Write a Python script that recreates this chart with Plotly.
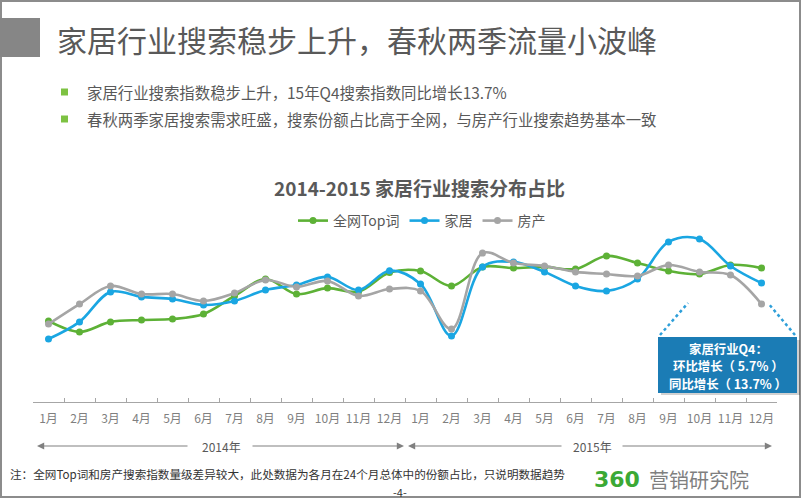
import plotly.graph_objects as go

# ---------------- data ----------------
month_labels = ["1月", "2月", "3月", "4月", "5月", "6月", "7月", "8月", "9月", "10月", "11月", "12月",
                "1月", "2月", "3月", "4月", "5月", "6月", "7月", "8月", "9月", "10月", "11月", "12月"]
month_index = list(range(24))
series_names = ["全网Top词", "家居", "房产"]
top_words = [2.48, 2.02, 2.44, 2.52, 2.56, 2.77, 3.53, 4.24, 3.61, 3.86, 3.71, 4.51,
             4.58, 3.95, 4.75, 4.70, 4.75, 4.66, 5.21, 4.91, 4.58, 4.45, 4.83, 4.70]
home = [1.72, 2.44, 3.70, 3.49, 3.40, 3.15, 3.32, 3.78, 3.99, 4.33, 3.78, 4.59,
        4.03, 1.85, 4.75, 4.96, 4.54, 3.95, 3.74, 4.24, 5.80, 5.92, 4.79, 4.07]
estate = [2.35, 3.19, 3.95, 3.61, 3.61, 3.32, 3.65, 4.20, 3.91, 4.16, 3.53, 3.82,
          3.74, 2.14, 5.33, 4.91, 4.79, 4.54, 4.45, 4.37, 4.83, 4.54, 4.41, 3.19]
year_labels = ["2014年", "2015年"]
boundaries = [i - 0.5 for i in range(25)]

# ---------------- layout constants ----------------
W, H = 802, 502
L, R, T, B = 33, 25, 230, 100
PW, PH = W - L - R, H - T - B
FONT = "Noto Sans CJK SC"


def px(x):
    return (x - L) / PW


def py(y):
    return (H - B - y) / PH


colors = ["#5DB136", "#1AA6E2", "#A5A5A5"]
# the last series sits on the overlay axis that carries the boundary ticks
trace_axes = ["x", "x", "x2"]

fig = go.Figure()
for name, vals, c, ax in zip(series_names, [top_words, home, estate], colors, trace_axes):
    fig.add_trace(go.Scatter(
        x=month_index, y=vals, name=name, mode="lines+markers", xaxis=ax, yaxis="y",
        line=dict(color=c, width=2.6, shape="spline", smoothing=1.0),
        marker=dict(color=c, size=7),
    ))

shapes = []
annotations = []

# frame
shapes.append(dict(type="rect", xref="paper", yref="paper", x0=px(1), x1=px(800), y0=py(1), y1=py(497),
                   line=dict(color="#8c8c8c", width=2), fillcolor="rgba(0,0,0,0)", layer="below"))
# title block
shapes.append(dict(type="rect", xref="paper", yref="paper", x0=px(0), x1=px(40), y0=py(18), y1=py(57),
                   line=dict(width=0), fillcolor="#868686"))
annotations.append(dict(xref="paper", yref="paper", x=px(55), y=py(39), xanchor="left", yanchor="middle",
                        text="家居行业搜索稳步上升，春秋两季流量小波峰", showarrow=False,
                        font=dict(family=FONT, size=30, color="#595959")))
# bullets
for yy, txt in [(92, "家居行业搜索指数稳步上升，15年Q4搜索指数同比增长13.7%"),
                (119, "春秋两季家居搜索需求旺盛，搜索份额占比高于全网，与房产行业搜索趋势基本一致")]:
    shapes.append(dict(type="rect", xref="paper", yref="paper", x0=px(61), x1=px(68), y0=py(yy - 3.5), y1=py(yy + 3.5),
                       line=dict(width=0), fillcolor="#7DC242"))
    annotations.append(dict(xref="paper", yref="paper", x=px(85), y=py(yy), xanchor="left", yanchor="middle",
                            text=txt, showarrow=False, font=dict(family=FONT, size=15.4, color="#595959")))

# chart title
annotations.append(dict(xref="paper", yref="paper", x=px(419), y=py(187), xanchor="center", yanchor="middle",
                        text="<b>2014-2015 家居行业搜索分布占比</b>", showarrow=False,
                        font=dict(family=FONT, size=19, color="#595959")))

# callout box with shadow and dotted leaders
shapes.append(dict(type="rect", xref="paper", yref="paper", x0=px(661), x1=px(800), y0=py(340), y1=py(395),
                   line=dict(width=0), fillcolor="rgba(0,0,0,0.18)"))
shapes.append(dict(type="rect", xref="paper", yref="paper", x0=px(658), x1=px(797), y0=py(337), y1=py(393),
                   line=dict(width=0), fillcolor="#1B7CB5"))
for (x0, y0, x1, y1) in [(660, 335, 688, 303), (795, 335, 768, 303)]:
    shapes.append(dict(type="line", xref="paper", yref="paper", x0=px(x0), y0=py(y0), x1=px(x1), y1=py(y1),
                       line=dict(color="#2E9FD9", width=2.5, dash="dot")))
for yy, txt in [(348.5, "家居行业Q4："), (366, "环比增长（ 5.7% ）"), (383.5, "同比增长（ 13.7% ）")]:
    annotations.append(dict(xref="paper", yref="paper", x=px(728), y=py(yy), xanchor="center", yanchor="middle",
                            text="<b>" + txt + "</b>", showarrow=False,
                            font=dict(family=FONT, size=12.4, color="white")))

# year arrows
ARROW = "#808080"
arrow_specs = [(37, 189), (404, 251), (408, 563), (772, 621)]
for tip, tail in arrow_specs:
    annotations.append(dict(xref="paper", yref="paper", x=px(tip), y=py(446), ax=tail - tip, ay=0,
                            text="", showarrow=True, arrowhead=2, arrowsize=1.2, arrowwidth=1.2,
                            arrowcolor=ARROW))
for xx, txt in zip([221, 592], year_labels):
    annotations.append(dict(xref="paper", yref="paper", x=px(xx), y=py(446), xanchor="center", yanchor="middle",
                            text=txt, showarrow=False, font=dict(family=FONT, size=12, color="#595959")))

# footer
annotations.append(dict(xref="paper", yref="paper", x=px(8), y=py(474), xanchor="left", yanchor="middle",
                        text="注：全网Top词和房产搜索指数量级差异较大，此处数据为各月在24个月总体中的份额占比，只说明数据趋势",
                        showarrow=False, font=dict(family=FONT, size=11.6, color="#333333")))
annotations.append(dict(xref="paper", yref="paper", x=px(400), y=py(492), xanchor="center", yanchor="middle",
                        text="-4-", showarrow=False, font=dict(family=FONT, size=11, color="#333333")))
annotations.append(dict(xref="paper", yref="paper", x=px(592), y=py(479), xanchor="left", yanchor="middle",
                        text="<b>360</b>", showarrow=False,
                        font=dict(family="DejaVu Sans", size=22, color="#3BA935")))
annotations.append(dict(xref="paper", yref="paper", x=px(647), y=py(479), xanchor="left", yanchor="middle",
                        text="营销研究院", showarrow=False,
                        font=dict(family=FONT, size=20, color="#7F7F7F")))

fig.update_layout(
    width=W, height=H,
    margin=dict(l=L, r=R, t=T, b=B),
    paper_bgcolor="white", plot_bgcolor="white",
    showlegend=True,
    legend=dict(orientation="h", x=px(422), xanchor="center", y=py(221), yanchor="middle",
                font=dict(family=FONT, size=14, color="#595959"), itemwidth=30,
                bgcolor="rgba(0,0,0,0)", traceorder="normal"),
    # main axis: month labels
    xaxis=dict(range=[-0.5, 23.5], tickmode="array", tickvals=month_index, ticktext=month_labels,
               showgrid=False, zeroline=False, showline=True, linecolor="#A6A6A6", linewidth=1,
               ticks="", ticklabelstandoff=6, tickfont=dict(family=FONT, size=12, color="#7F7F7F")),
    # overlay axis: tick marks at the month boundaries
    xaxis2=dict(range=[-0.5, 23.5], overlaying="x", side="bottom", anchor="y", matches="x",
                tickmode="array", tickvals=boundaries, showticklabels=False,
                showgrid=False, zeroline=False, showline=False,
                ticks="inside", ticklen=4, tickcolor="#A6A6A6", tickwidth=1),
    yaxis=dict(range=[-0.924, 6.3], visible=False, showgrid=False, zeroline=False),
    shapes=shapes, annotations=annotations,
)

fig.write_html("out.html", config={"displayModeBar": False},
               post_script="document.body.style.margin='0';")
